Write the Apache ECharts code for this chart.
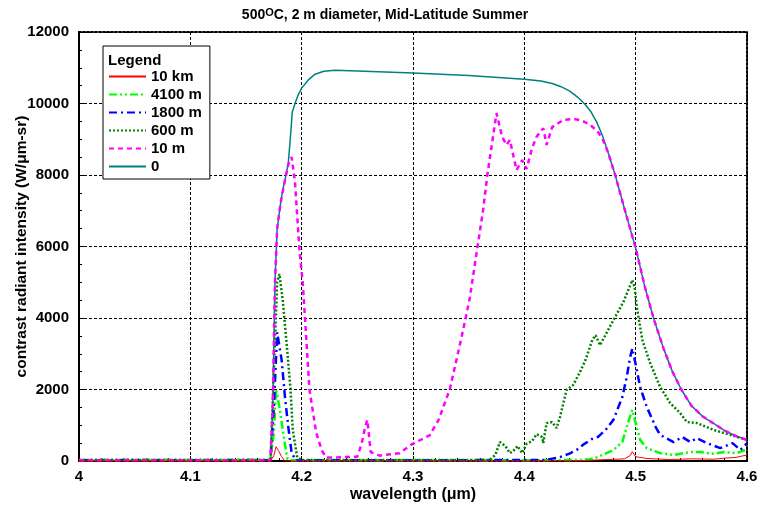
<!DOCTYPE html>
<html>
<head>
<meta charset="utf-8">
<script src="https://cdn.jsdelivr.net/npm/echarts@6/dist/echarts.min.js"></script>
<style>
html,body{margin:0;padding:0;background:#fff;}
#chart{width:770px;height:510px;}
</style>
</head>
<body>
<div id="chart"></div>
<script>
// ---- data ----
const seriesNames = ["10 km", "4100 m", "1800 m", "600 m", "10 m", "0"];

const wl_10km = [4.0, 4.05, 4.1, 4.15, 4.172, 4.175, 4.177, 4.179, 4.182, 4.185, 4.2, 4.3, 4.4, 4.45, 4.49, 4.495, 4.497, 4.5, 4.51, 4.53, 4.55, 4.57, 4.58, 4.59, 4.6];
const val_10km = [0, 0, 0, 0, 0, 150, 400, 300, 120, 0, 0, 0, 0, 10, 60, 150, 260, 120, 70, 40, 60, 50, 80, 100, 170];

const wl_4100m = [4.0, 4.05, 4.1, 4.15, 4.172, 4.175, 4.177, 4.18, 4.184, 4.187, 4.19, 4.3, 4.4, 4.45, 4.459, 4.466, 4.48, 4.488, 4.493, 4.497, 4.5, 4.504, 4.51, 4.522, 4.534, 4.549, 4.558, 4.57, 4.579, 4.591, 4.6];
const val_4100m = [30, 40, 30, 40, 30, 800, 2000, 1510, 670, 80, 20, 20, 20, 30, 50, 110, 310, 530, 1060, 1430, 1060, 590, 360, 220, 170, 250, 250, 200, 250, 220, 330];

const wl_1800m = [4.0, 4.1, 4.172, 4.175, 4.178, 4.182, 4.185, 4.188, 4.191, 4.195, 4.3, 4.42, 4.432, 4.44, 4.447, 4.454, 4.461, 4.466, 4.473, 4.48, 4.488, 4.492, 4.495, 4.497, 4.501, 4.504, 4.51, 4.518, 4.522, 4.534, 4.542, 4.549, 4.555, 4.564, 4.576, 4.587, 4.594, 4.6];
const val_1800m = [20, 20, 20, 1500, 3600, 2830, 1790, 950, 220, 20, 20, 30, 110, 200, 310, 480, 620, 670, 870, 1150, 1790, 2350, 2900, 3150, 2550, 2070, 1510, 950, 730, 530, 670, 530, 640, 500, 360, 500, 310, 500];

const wl_600m = [4.0, 4.1, 4.172, 4.175, 4.178, 4.18, 4.183, 4.187, 4.19, 4.192, 4.196, 4.2, 4.3, 4.369, 4.374, 4.378, 4.383, 4.387, 4.39, 4.394, 4.398, 4.402, 4.407, 4.411, 4.416, 4.417, 4.42, 4.425, 4.429, 4.432, 4.438, 4.444, 4.45, 4.455, 4.461, 4.464, 4.468, 4.48, 4.489, 4.497, 4.499, 4.501, 4.506, 4.513, 4.522, 4.531, 4.54, 4.546, 4.555, 4.57, 4.585, 4.6];
const val_600m = [30, 30, 30, 2500, 5000, 5230, 4500, 3100, 2000, 870, 100, 30, 30, 30, 170, 530, 420, 220, 280, 420, 220, 480, 560, 750, 670, 500, 1060, 1090, 920, 1230, 1990, 2130, 2490, 2830, 3380, 3520, 3240, 3940, 4450, 5060, 4870, 4310, 3380, 2740, 2070, 1620, 1340, 1090, 1060, 870, 730, 590];

const wl_10m = [4.0, 4.1, 4.172, 4.174, 4.176, 4.178, 4.181, 4.184, 4.188, 4.191, 4.194, 4.198, 4.201, 4.207, 4.213, 4.218, 4.222, 4.23, 4.25, 4.254, 4.257, 4.259, 4.262, 4.27, 4.288, 4.299, 4.315, 4.323, 4.333, 4.341, 4.347, 4.351, 4.357, 4.363, 4.367, 4.375, 4.38, 4.384, 4.387, 4.393, 4.398, 4.402, 4.407, 4.411, 4.417, 4.42, 4.425, 4.435, 4.444, 4.452, 4.459, 4.465, 4.47, 4.475, 4.4816, 4.486, 4.49, 4.495, 4.5005, 4.508, 4.516, 4.525, 4.533, 4.541, 4.55, 4.56, 4.57, 4.58, 4.59, 4.6];
const val_10m = [20, 20, 20, 1500, 5000, 6500, 7200, 7700, 8300, 8500, 7800, 5900, 4980, 2000, 800, 300, 100, 100, 120, 500, 950, 1150, 250, 150, 220, 470, 720, 1150, 2000, 3100, 3950, 4560, 5800, 7020, 8050, 9730, 9070, 8840, 8980, 8140, 8420, 8170, 8760, 9070, 9310, 8840, 9340, 9540, 9570, 9520, 9400, 9250, 9030, 8650, 8000, 7500, 7050, 6500, 5900, 4900, 4000, 3150, 2500, 2000, 1550, 1250, 1050, 850, 700, 590];

const wl_0 = [4.0, 4.1, 4.172, 4.174, 4.176, 4.178, 4.181, 4.183, 4.186, 4.188, 4.1905, 4.1915, 4.194, 4.197, 4.2, 4.206, 4.212, 4.22, 4.23, 4.25, 4.3, 4.35, 4.4, 4.415, 4.425, 4.433, 4.44, 4.445, 4.45, 4.455, 4.46, 4.465, 4.47, 4.475, 4.4816, 4.486, 4.49, 4.495, 4.5005, 4.508, 4.516, 4.525, 4.533, 4.541, 4.55, 4.56, 4.57, 4.58, 4.59, 4.6];
const val_0 = [20, 20, 20, 1500, 5000, 6500, 7200, 7580, 8000, 8340, 9300, 9750, 10000, 10250, 10430, 10660, 10820, 10900, 10930, 10910, 10850, 10780, 10680, 10630, 10560, 10470, 10360, 10250, 10120, 9960, 9760, 9480, 9120, 8650, 8000, 7500, 7050, 6500, 5900, 4900, 4000, 3150, 2500, 2000, 1550, 1250, 1050, 850, 700, 590];

const xTicks = [4, 4.1, 4.2, 4.3, 4.4, 4.5, 4.6];
const yTicks = [0, 2000, 4000, 6000, 8000, 10000, 12000];

// ---- chart ----
function pairs(xs, ys) { return xs.map((x, i) => [x, ys[i]]); }
const FONT = 'Liberation Sans, Arial, sans-serif';
const chart = echarts.init(document.getElementById('chart'), null, {renderer: 'canvas'});

const styles = [
  {color: '#ff0000', width: 1, type: 'solid', z: 4},
  {color: '#00ff00', width: 2.5, type: [8, 3, 2, 3, 2, 3], z: 3},
  {color: '#0000ff', width: 2.5, type: [8, 4, 2, 4], z: 3},
  {color: '#008000', width: 2.5, type: [2, 2], z: 3},
  {color: '#ff00ff', width: 2.5, type: [5, 4], z: 3},
  {color: '#008080', width: 1.5, type: 'solid', z: 2}
];
const dataSets = [
  pairs(wl_10km, val_10km), pairs(wl_4100m, val_4100m), pairs(wl_1800m, val_1800m),
  pairs(wl_600m, val_600m), pairs(wl_10m, val_10m), pairs(wl_0, val_0)
];

const series = seriesNames.map((n, i) => ({
  name: n, type: 'line', data: dataSets[i], showSymbol: false, symbol: 'none',
  xAxisIndex: 0, yAxisIndex: 0, z: styles[i].z, animation: false,
  lineStyle: {color: styles[i].color, width: styles[i].width, type: styles[i].type},
  itemStyle: {color: styles[i].color}
}));

const option = {
  animation: false,
  backgroundColor: '#fff',
  title: {
    text: '{a|500}{s|O}{a|C, 2 m diameter, Mid-Latitude Summer}',
    left: 'center', top: 2,
    textStyle: {
      rich: {
        a: {fontFamily: FONT, fontWeight: 'bold', fontSize: 14, color: '#000'},
        s: {fontFamily: FONT, fontWeight: 'bold', fontSize: 11, color: '#000', verticalAlign: 'top', padding: [0, 0, 6, 0]}
      }
    }
  },
  grid: {left: 79, right: 23, top: 32, bottom: 49, show: false, containLabel: false, outerBoundsMode: 'none'},
  legend: {
    data: seriesNames,
    orient: 'vertical', left: 103, top: 46,
    padding: [23, 8, 5, 5],
    itemWidth: 37, itemHeight: 14, itemGap: 3,
    backgroundColor: '#fff', borderColor: '#000', borderWidth: 1,
    z: 10,
    itemStyle: {color: 'rgba(0,0,0,0)', borderColor: 'rgba(0,0,0,0)', borderWidth: 0},
    textStyle: {fontFamily: FONT, fontWeight: 'bold', fontSize: 15, color: '#000', lineHeight: 15}
  },
  graphic: [{
    type: 'text', left: 108, top: 53, z: 100,
    style: {text: 'Legend', font: 'bold 15px Liberation Sans, Arial, sans-serif', fill: '#000'}
  }],
  xAxis: [{
    type: 'value', min: 4, max: 4.6, interval: 0.1,
    name: 'wavelength (μm)', nameLocation: 'middle', nameGap: 26, nameMoveOverlap: false,
    nameTextStyle: {fontFamily: FONT, fontWeight: 'bold', fontSize: 16, color: '#000'},
    axisLine: {show: true, onZero: false, lineStyle: {color: '#000', width: 2}},
    axisTick: {show: true, inside: true, length: 5, lineStyle: {color: '#000'}},
    minorTick: {show: true, splitNumber: 5, length: 3, lineStyle: {color: '#000'}},
    axisLabel: {margin: 8, fontFamily: FONT, fontWeight: 'bold', fontSize: 15, color: '#000',
      formatter: v => { const t = xTicks.find(x => Math.abs(x - v) < 1e-6); return t === undefined ? '' : String(t); }},
    splitLine: {show: true, lineStyle: {color: '#000', width: 1, type: [3, 2]}}
  }, {
    type: 'value', min: 4, max: 4.6, position: 'top',
    axisLine: {show: true, onZero: false, lineStyle: {color: '#000', width: 2, type: [2, 2]}},
    axisTick: {show: false}, axisLabel: {show: false}, splitLine: {show: false}
  }],
  yAxis: [{
    type: 'value', min: 0, max: 12000, interval: 2000,
    name: 'contrast radiant intensity (W/μm-sr)', nameLocation: 'middle', nameGap: 49, nameMoveOverlap: false,
    nameTextStyle: {fontFamily: FONT, fontWeight: 'bold', fontSize: 15.5, color: '#000'},
    axisLine: {show: true, onZero: false, lineStyle: {color: '#000', width: 2}},
    axisTick: {show: true, inside: true, length: 5, lineStyle: {color: '#000'}},
    minorTick: {show: true, splitNumber: 4, length: 3, lineStyle: {color: '#000'}},
    axisLabel: {margin: 10, fontFamily: FONT, fontWeight: 'bold', fontSize: 15, color: '#000',
      formatter: v => { const t = yTicks.find(y => y === v); return t === undefined ? '' : String(t); }},
    splitLine: {show: true, lineStyle: {color: '#000', width: 1, type: [3, 2]}}
  }, {
    type: 'value', min: 0, max: 12000, position: 'right',
    axisLine: {show: true, onZero: false, lineStyle: {color: '#000', width: 2, type: [2, 2]}},
    axisTick: {show: false}, axisLabel: {show: false}, splitLine: {show: false}
  }],
  series: series
};
chart.setOption(option);
</script>
</body>
</html>
